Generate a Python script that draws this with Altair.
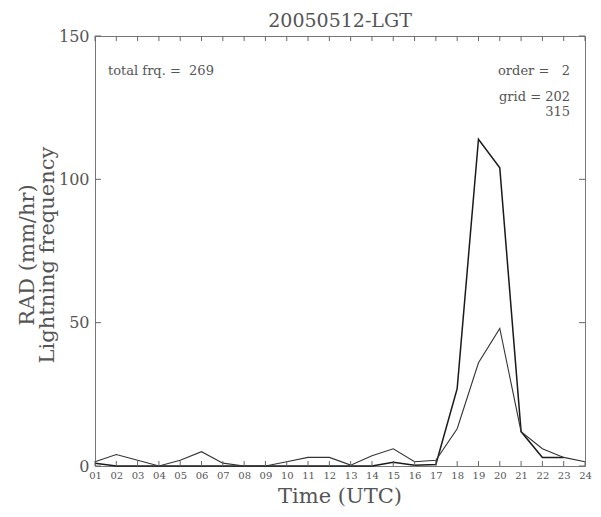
import altair as alt
import pandas as pd

# ---- data ----
hours = list(range(1, 25))
lightning = [1, 0, 0, 0, 0, 0, 0, 0, 0, 0, 0, 0, 0, 0, 1.3, 0.3, 0.5, 27, 114, 104, 12, 3, 3, None]
rad = [1.5, 4, 2, 0, 2, 5, 1, 0, 0, 1.5, 3, 3, 0.3, 3.6, 6, 1.5, 2, 13, 36, 48, 12, 6, 3, 1.5]
y_ticks = [0, 50, 100, 150]
title_text = "20050512-LGT"
x_title = "Time (UTC)"
y_titles = ["RAD (mm/hr)", "Lightning frequency"]
note_left = "total frq. =\u00a0\u00a0269"
note_order = "order =\u00a0\u00a0\u00a02"
note_grid = ["grid = 202", "315"]

FONT = "DejaVu Serif"
TXT = "#555555"
W, H = 490, 430

df_l = pd.DataFrame({"hour": hours, "value": lightning}).dropna()
df_r = pd.DataFrame({"hour": hours, "value": rad})
df_t = pd.DataFrame({"hour": hours})
df_y = pd.DataFrame({"value": y_ticks})

xscale = alt.Scale(domain=[1, 24], nice=False, zero=False)
yscale = alt.Scale(domain=[0, 150], nice=False)
xaxis = alt.Axis(values=hours, labelExpr="datum.value < 10 ? '0' + datum.value : '' + datum.value",
                 domain=False, ticks=False, grid=False, labelFont=FONT, labelFontSize=10,
                 labelColor=TXT, labelPadding=4, labelFlush=False, labelOverlap=False)
yaxis = alt.Axis(values=y_ticks, domain=False, ticks=False, grid=False, labelFont=FONT,
                 labelFontSize=16, labelColor=TXT, labelPadding=6, labelFlush=False)

X = alt.X("hour:Q", scale=xscale, axis=xaxis, title="")
Y = alt.Y("value:Q", scale=yscale, axis=yaxis, title="")

line_l = alt.Chart(df_l).mark_line(color="#1a1a1a", strokeWidth=1.5).encode(x=X, y=Y)
line_r = alt.Chart(df_r).mark_line(color="#333333", strokeWidth=1.1).encode(x=X, y=Y)

tick_top = alt.Chart(df_t).mark_rule(color="#666666").encode(x=X, y=alt.value(0), y2=alt.value(5))
tick_bot = alt.Chart(df_t).mark_rule(color="#666666").encode(x=X, y=alt.value(H), y2=alt.value(H - 5))
tick_left = alt.Chart(df_y).mark_rule(color="#666666").encode(y=Y, x=alt.value(0), x2=alt.value(6))
tick_right = alt.Chart(df_y).mark_rule(color="#666666").encode(y=Y, x=alt.value(W), x2=alt.value(W - 6))

one = df_y.head(1)

def txt(text, x, y, align, size, angle=0, baseline="middle"):
    return alt.Chart(one).mark_text(font=FONT, fontSize=size, color=TXT, align=align,
                                    baseline=baseline, angle=angle).encode(
        x=alt.value(x), y=alt.value(y), text=alt.value(text))

layers = [
    line_l, line_r, tick_top, tick_bot, tick_left, tick_right,
    txt(note_left, 13, 35, "left", 13),
    txt(note_order, W - 15, 35, "right", 13),
    txt(note_grid[0], W - 15, 61, "right", 13),
    txt(note_grid[1], W - 15, 76, "right", 13),
    txt(title_text, W / 2, -9, "center", 19, baseline="alphabetic"),
    txt(x_title, W / 2, H + 31, "center", 21),
    txt(y_titles[0], -67, H / 2 + 4, "center", 21, 270),
    txt(y_titles[1], -47, H / 2 + 4, "center", 21, 270),
]

chart = alt.layer(*layers).properties(
    width=W, height=H,
    autosize=alt.AutoSizeParams(type="none"),
    padding={"left": 87, "top": 28, "right": 8, "bottom": 50},
    background="white",
).configure_view(stroke="#777777", strokeWidth=1)

chart.save("out.html", embed_options={"renderer": "svg", "actions": False})
